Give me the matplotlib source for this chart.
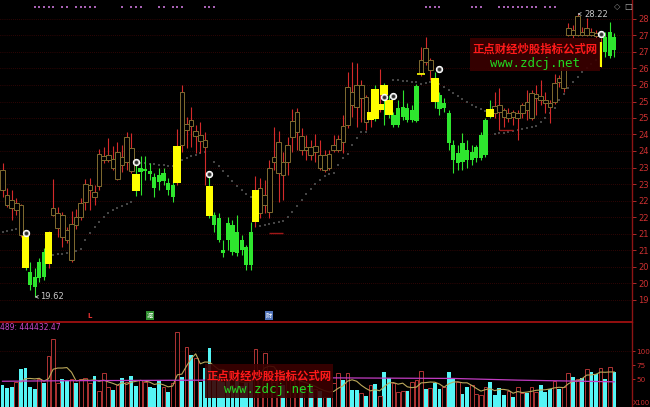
import numpy as np
import pandas as pd
import matplotlib
matplotlib.use("Agg")
import matplotlib.pyplot as plt
from matplotlib.patches import Rectangle

plt.rcParams['font.family'] = ['DejaVu Sans', 'Noto Sans CJK SC']

# daily prices
opens = [23.48, 22.72, 22.57, 22.26, 22.41, 21.47, 20.38, 20.22, 20.19, 20.98,
         20.62, 22.11, 21.71, 22.11, 21.65, 20.74, 22.05, 22.05, 22.50, 22.87,
         22.81, 22.99, 23.78, 23.78, 23.81, 23.20, 23.87, 23.72, 24.15, 23.36,
         23.42, 23.45, 23.45, 23.26, 23.33, 23.14, 23.08, 22.66, 23.08, 25.85,
         24.69, 25.00, 24.51, 24.54, 24.39, 22.99, 22.11, 22.02, 21.05, 21.87,
         21.81, 21.59, 21.35, 21.14, 21.59, 21.90, 22.17, 22.41, 22.20, 23.72,
         23.39, 23.72, 23.72, 24.48, 24.63, 24.51, 24.09, 24.18, 24.02, 23.93,
         23.48, 23.96, 24.09, 24.09, 24.82, 24.85, 25.85, 26.06, 25.67, 25.70,
         25.00, 25.94, 25.30, 26.06, 25.61, 24.85, 24.85, 25.09, 25.36, 25.00,
         24.97, 26.43, 27.19, 26.52, 26.27, 25.76, 25.36, 25.21, 24.24, 23.69,
         24.30, 24.09, 23.78, 23.84, 23.84, 23.93, 25.33, 25.42, 25.45, 25.30,
         25.06, 25.24, 25.06, 25.21, 25.54, 25.06, 25.67, 25.73, 25.61, 25.51,
         25.54, 26.27, 25.97, 27.58, 27.73, 27.58, 27.67, 27.58, 27.67, 27.64,
         26.61, 27.52, 26.94, 27.52]
highs = [23.69, 22.93, 22.87, 22.63, 22.44, 21.50, 20.68, 20.50, 20.80, 21.11,
         21.62, 23.20, 22.35, 22.20, 21.74, 22.23, 22.29, 22.63, 23.20, 23.23,
         23.02, 24.12, 24.18, 24.45, 24.21, 24.33, 24.24, 24.63, 24.60, 23.63,
         23.90, 23.90, 23.69, 23.39, 23.54, 23.54, 23.23, 23.17, 24.72, 26.06,
         25.09, 25.39, 24.85, 24.94, 24.63, 23.26, 22.20, 22.17, 21.35, 22.05,
         21.96, 22.11, 21.50, 21.20, 21.90, 23.30, 23.23, 23.17, 23.78, 24.78,
         24.66, 24.02, 24.48, 25.33, 25.36, 24.75, 24.54, 24.39, 24.57, 24.39,
         24.09, 24.09, 24.54, 24.54, 25.15, 26.46, 26.76, 26.73, 26.21, 25.76,
         25.45, 26.06, 26.55, 26.12, 25.76, 25.24, 25.61, 25.91, 25.51, 25.45,
         26.09, 27.22, 27.52, 26.88, 26.46, 25.85, 25.67, 25.30, 24.39, 24.24,
         24.60, 24.39, 24.24, 24.24, 24.63, 25.06, 25.61, 25.85, 25.97, 25.36,
         25.36, 25.30, 25.30, 25.51, 25.91, 25.91, 26.06, 26.21, 25.85, 25.61,
         26.40, 26.37, 26.64, 27.95, 27.89, 28.22, 27.82, 28.10, 27.79, 27.73,
         27.49, 27.67, 27.98, 27.64]
lows = [22.66, 22.35, 21.96, 22.11, 21.44, 20.44, 19.83, 19.62, 20.07, 20.13,
        20.50, 22.08, 21.44, 21.14, 21.26, 20.68, 21.68, 21.96, 22.26, 22.26,
        22.41, 22.87, 23.69, 23.72, 23.48, 23.17, 23.42, 23.48, 23.39, 22.69,
        22.72, 23.17, 23.17, 22.66, 22.87, 23.02, 22.72, 22.50, 23.02, 24.02,
        24.15, 24.18, 23.99, 23.99, 23.02, 22.02, 21.59, 21.29, 20.83, 21.05,
        20.89, 20.86, 20.89, 20.44, 20.44, 21.74, 22.02, 22.17, 22.02, 23.48,
        22.50, 22.57, 23.33, 24.02, 24.09, 23.93, 23.78, 23.78, 23.72, 23.48,
        23.42, 23.48, 24.02, 24.02, 23.99, 24.75, 25.09, 24.78, 24.94, 24.69,
        24.78, 24.97, 25.24, 24.85, 25.06, 24.78, 24.78, 25.00, 24.94, 24.94,
        24.94, 26.34, 26.67, 26.21, 25.36, 25.15, 25.24, 24.09, 23.39, 23.48,
        23.48, 23.54, 23.63, 23.72, 23.78, 23.87, 25.06, 25.06, 24.69, 24.78,
        24.94, 24.85, 24.39, 25.06, 25.00, 25.00, 25.15, 25.45, 25.21, 24.91,
        25.48, 26.00, 25.85, 27.55, 27.49, 27.55, 27.55, 27.55, 27.55, 27.49,
        26.61, 26.91, 26.88, 26.91]
closes = [22.87, 22.41, 22.32, 22.47, 21.50, 20.50, 19.98, 19.92, 20.68, 20.22,
          21.59, 22.32, 22.17, 21.44, 21.35, 21.84, 21.81, 22.47, 23.05, 23.02,
          22.66, 23.96, 23.90, 23.93, 23.54, 24.02, 23.63, 24.48, 23.45, 22.84,
          23.54, 23.51, 23.36, 22.93, 23.11, 23.39, 22.87, 23.02, 24.21, 24.24,
          24.88, 24.82, 24.66, 24.36, 24.18, 22.08, 21.81, 21.35, 20.95, 21.35,
          20.98, 20.95, 21.05, 20.59, 20.59, 22.87, 22.93, 22.72, 23.54, 23.87,
          24.33, 23.33, 24.24, 24.97, 25.24, 24.09, 24.18, 23.93, 24.21, 23.54,
          23.93, 23.54, 24.24, 24.42, 24.33, 26.00, 25.45, 25.39, 26.06, 24.94,
          25.24, 25.03, 25.48, 25.76, 25.15, 25.15, 25.36, 25.39, 25.00, 25.30,
          26.03, 26.82, 26.76, 26.82, 25.54, 25.33, 25.51, 24.30, 23.78, 23.99,
          23.72, 23.78, 24.02, 24.18, 24.54, 25.00, 25.09, 25.21, 25.24, 25.09,
          25.21, 25.09, 25.21, 25.45, 25.30, 25.82, 25.79, 25.61, 25.51, 25.39,
          26.12, 26.15, 26.61, 27.79, 27.58, 28.16, 27.58, 27.79, 27.58, 27.55,
          27.37, 27.06, 27.67, 27.13]
# candle colouring of the indicator: n plain, g green, y yellow signal, z narrow yellow
kind_runs = [('n', 5), ('y', 1), ('g', 4), ('y', 1), ('n', 18), ('y', 1), ('g', 8),
             ('y', 1), ('n', 6), ('y', 1), ('g', 9), ('y', 1), ('n', 24), ('y', 5),
             ('g', 6), ('n', 3), ('y', 1), ('g', 11), ('y', 1), ('n', 23), ('z', 1), ('g', 3)]
volumes = [39, 34, 36, 45, 68, 70, 36, 32, 50, 43,
           91, 121, 43, 50, 47, 50, 43, 50, 52, 43,
           55, 29, 61, 36, 30, 39, 52, 45, 55, 38,
           48, 45, 36, 34, 47, 36, 27, 43, 134, 54,
           107, 93, 87, 45, 70, 105, 60, 55, 45, 50,
           40, 48, 38, 45, 50, 104, 55, 96, 60, 45,
           50, 40, 55, 48, 50, 35, 30, 38, 32, 28,
           18, 18, 43, 61, 48, 61, 30, 30, 25, 20,
           39, 41, 20, 62, 52, 43, 27, 29, 29, 45,
           48, 64, 32, 34, 43, 32, 36, 62, 50, 45,
           23, 36, 39, 23, 21, 36, 45, 21, 34, 21,
           29, 18, 36, 25, 25, 36, 27, 39, 27, 32,
           46, 32, 36, 61, 54, 50, 52, 68, 63, 59,
           70, 50, 71, 63]
# trailing stop dots
stop_line = [21.59, 21.62, 21.65, 21.68, 21.71, None, None, None, None, None,
             None, 20.89, 20.92, 20.92, 20.95, 20.98, 21.02, 21.08, 21.35, 21.56,
             21.74, 21.90, 22.05, 22.17, 22.26, 22.32, 22.38, 22.44, 22.50, None,
             23.69, 23.69, 23.66, 23.66, 23.63, 23.63, 23.60, 23.60, None, 23.78,
             23.84, 23.90, 23.93, 23.99, 24.02, None, 23.72, 23.60, 23.45, 23.30,
             23.14, 22.99, 22.87, 22.75, 22.66, None, 21.78, 21.81, 21.84, 21.87,
             21.90, 21.93, 22.05, 22.20, 22.38, 22.57, 22.75, 22.90, 23.05, 23.17,
             23.30, 23.36, 23.39, 23.63, 23.84, 23.96, 24.24, 24.45, 24.63, 24.63,
             None, None, None, None, None, 26.21, 26.21, 26.18, 26.18, 26.15,
             26.15, 26.09, 26.12, 26.15, None, 26.09, 26.00, 25.91, 25.82, 25.73,
             25.64, 25.54, 25.45, 25.39, 25.33, 25.27, None, 24.57, 24.60, 24.60,
             24.63, 24.66, 24.69, 24.72, 24.75, 24.78, 24.82, 24.94, 25.06, 25.21,
             25.36, 25.61, 25.79, 25.97, 26.15, 26.31, 26.46, 26.58, 26.70, 26.82,
             None, None, None, None]
sig_idx = [5, 29, 45, 83, 85, 95, 130]
sig_price = [21.56, 23.72, 23.36, 25.70, 25.73, 26.55, 27.61]
gap_start = [58, 108]
gap_end = [61, 111]
gap_price = [21.56, 24.69]
dash_idx = 91
dash_price = 26.40
info_idx = [7, 8, 9, 10, 11, 13, 14, 16, 17, 18, 19, 20, 26, 28, 29, 30, 34, 35, 37, 38, 39,
            44, 45, 46, 92, 93, 94, 95, 102, 103, 104, 108, 109, 110, 111, 112, 113, 114,
            115, 116, 118, 119, 120]
event_idx = [19, 32, 58]
event_text = ['L', '减', '财']
ma_long_idx = [0, 15, 45, 72, 98, 112, 133]
ma_long = [46, 47, 48, 52, 51, 48, 45]
price_ticks = [19.53, 20.03, 20.54, 21.04, 21.54, 22.04, 22.55, 23.05, 23.55,
               24.06, 24.56, 25.06, 25.56, 26.07, 26.57, 27.07, 27.58, 28.08]
vol_ticks = [50, 75, 100]

W, H = 650, 407
fig = plt.figure(figsize=(W / 100, H / 100), dpi=100, facecolor='black')
ax = fig.add_axes([0, 1 - 322 / H, 632 / W, 322 / H])
axv = fig.add_axes([0, 0, 632 / W, 85 / H], sharex=ax)

o, h, l, c = (np.array(a, dtype=float) for a in (opens, highs, lows, closes))
x = np.arange(len(o))
top = np.maximum(o, c)
bot = np.minimum(o, c)
kinds = "".join(k * n for k, n in kind_runs)

RED, GREEN, YEL, OLIVE = '#d42a2a', '#2ee62e', '#ffff00', '#806c30'
for i, k in enumerate(kinds):
    hgt = max(top[i] - bot[i], 0.035)
    if k == 'n':
        ax.vlines(i, top[i], h[i], color=RED, lw=0.8, zorder=2)
        ax.vlines(i, l[i], bot[i], color=RED, lw=0.8, zorder=2)
        ax.add_patch(Rectangle((i - 0.5, bot[i]), 1.0, hgt, facecolor='black',
                               edgecolor=OLIVE, lw=0.7, zorder=3))
    elif k == 'g':
        ax.vlines(i, l[i], h[i], color=GREEN, lw=0.8, zorder=2)
        ax.add_patch(Rectangle((i - 0.45, bot[i]), 0.9, hgt, facecolor=GREEN,
                               edgecolor='none', zorder=3))
    else:
        w = 1.7 if k == 'y' else 0.7
        ax.vlines(i, l[i], h[i], color=RED if c[i] >= o[i] else GREEN, lw=0.8, zorder=4)
        ax.add_patch(Rectangle((i - w / 2, bot[i]), w, hgt, facecolor=YEL,
                               edgecolor='none', zorder=5))

stop = np.array(stop_line, dtype=float)
ax.scatter(x, stop, s=1.0, marker='s', color='#454545', lw=0, zorder=1)
ax.scatter(sig_idx, sig_price, s=20, facecolor='#b8b8b8', edgecolor='white', lw=0.8, zorder=6)
ax.scatter(sig_idx, sig_price, s=2, color='#303030', zorder=7)
ax.hlines(gap_price, gap_start, gap_end, color='#a01818', lw=1.0, zorder=2)
ax.hlines(dash_price, dash_idx - 0.9, dash_idx + 0.9, color=YEL, lw=1.2, zorder=6)

ax.scatter(info_idx, [0.978] * len(info_idx), transform=ax.get_xaxis_transform(),
           marker='s', s=2.2, color='#a862b4', lw=0, zorder=6)
for i, t in zip(event_idx, event_text):
    if t == 'L':
        ax.text(i, 0.02, t, transform=ax.get_xaxis_transform(), color='#e03030',
                fontsize=5, ha='center', va='center', weight='bold')
    else:
        bg = '#2f8f2f' if t == '减' else '#4f72b8'
        ax.text(i, 0.02, t, transform=ax.get_xaxis_transform(), color='white',
                fontsize=4.5, ha='center', va='center', family=['Noto Sans CJK SC'],
                bbox=dict(facecolor=bg, edgecolor='none', pad=0.6))

imin = int(np.argmin(l))
imax = int(np.argmax(h))
ax.annotate(f'{l[imin]:.2f}', xy=(imin, l[imin]), xytext=(imin + 1.2, l[imin]),
            color='#c8c8c8', fontsize=6, va='center',
            arrowprops=dict(arrowstyle='->', color='#c8c8c8', lw=0.6, mutation_scale=5))
ax.annotate(f'{h[imax]:.2f}', xy=(imax, h[imax]), xytext=(imax + 1.6, h[imax]),
            color='#c8c8c8', fontsize=6, va='center',
            arrowprops=dict(arrowstyle='->', color='#c8c8c8', lw=0.6, mutation_scale=5))

for p in price_ticks:
    ax.axhline(p, color='#5a0a0a', lw=0.5, ls=(0, (1, 2)), zorder=0)

# volume panel
v = np.array(volumes, dtype=float)
up = c >= o
axv.bar(x[~up], v[~up], width=0.8, color='#55f5f5', zorder=2)
axv.bar(x[up], v[up], width=0.8, facecolor='black', edgecolor='#b03434', lw=0.7, zorder=2)
axv.plot(x, pd.Series(v).rolling(5).mean(), color='#bba85a', lw=0.8, zorder=3)
axv.plot(ma_long_idx, ma_long, color='#c23cc2', lw=0.9, zorder=3)
axv.axhline(100, color='#5a0a0a', lw=0.5, ls=(0, (1, 2)), zorder=0)

ax.set_xlim(-2.5 / 4.6, 629.5 / 4.6)
ax.set_ylim(28.6456 - 0.0304 * 322, 28.6456)
axv.set_ylim(0, 85 * 1.786)

for a in (ax, axv):
    a.set_facecolor('black')
    for s in a.spines.values():
        s.set_visible(False)
    a.spines['right'].set_visible(True)
    a.spines['right'].set_color('#8c1414')
    a.spines['right'].set_linewidth(1.0)
    a.tick_params(axis='x', bottom=False, labelbottom=False)
    a.yaxis.tick_right()
    a.tick_params(axis='y', colors='#cc3030', labelsize=6, length=3, width=0.6, pad=1.5)
axv.tick_params(axis='y', labelsize=5.2, length=2, pad=1)
axv.spines['top'].set_visible(True)
axv.spines['top'].set_color('#a01010')
axv.spines['top'].set_linewidth(1.3)

ax.set_yticks(price_ticks)
ax.set_yticklabels([str(int(p)) for p in price_ticks])
axv.set_yticks(vol_ticks)
axv.set_yticklabels([str(t) for t in vol_ticks])
fig.text(633 / W, 1 - 403 / H, 'X100', color='#cc3030', fontsize=4.8, va='center')
fig.text(0, 1 - 327 / H, '489: 444432.47', color='#c848c8', fontsize=5.5, va='center')
fig.text(617 / W, 1 - 7 / H, '◇', color='#909090', fontsize=6, ha='center', va='center')
fig.text(628 / W, 1 - 7 / H, '□', color='#b0b0b0', fontsize=6, ha='center', va='center')

# site watermarks
for bx0, by0, bx1, by1, cx, cy1, cy2 in [(470, 38, 600, 71, 535, 49, 63),
                                         (205, 364, 333, 398, 269, 376, 390)]:
    fig.patches.append(Rectangle((bx0 / W, 1 - by1 / H), (bx1 - bx0) / W, (by1 - by0) / H,
                                 transform=fig.transFigure, facecolor='#3a0000',
                                 edgecolor='none', alpha=0.9, zorder=10))
    fig.text(cx / W, 1 - cy1 / H, '正点财经炒股指标公式网', color='#ff1a1a', fontsize=8.2,
             family=['Noto Sans CJK SC'], weight='bold', ha='center', va='center', zorder=11)
    fig.text(cx / W, 1 - cy2 / H, 'www.zdcj.net', color='#22d822', fontsize=9,
             family=['DejaVu Sans Mono'], ha='center', va='center', zorder=11)

fig.savefig('out.png', dpi=100, facecolor='black')
